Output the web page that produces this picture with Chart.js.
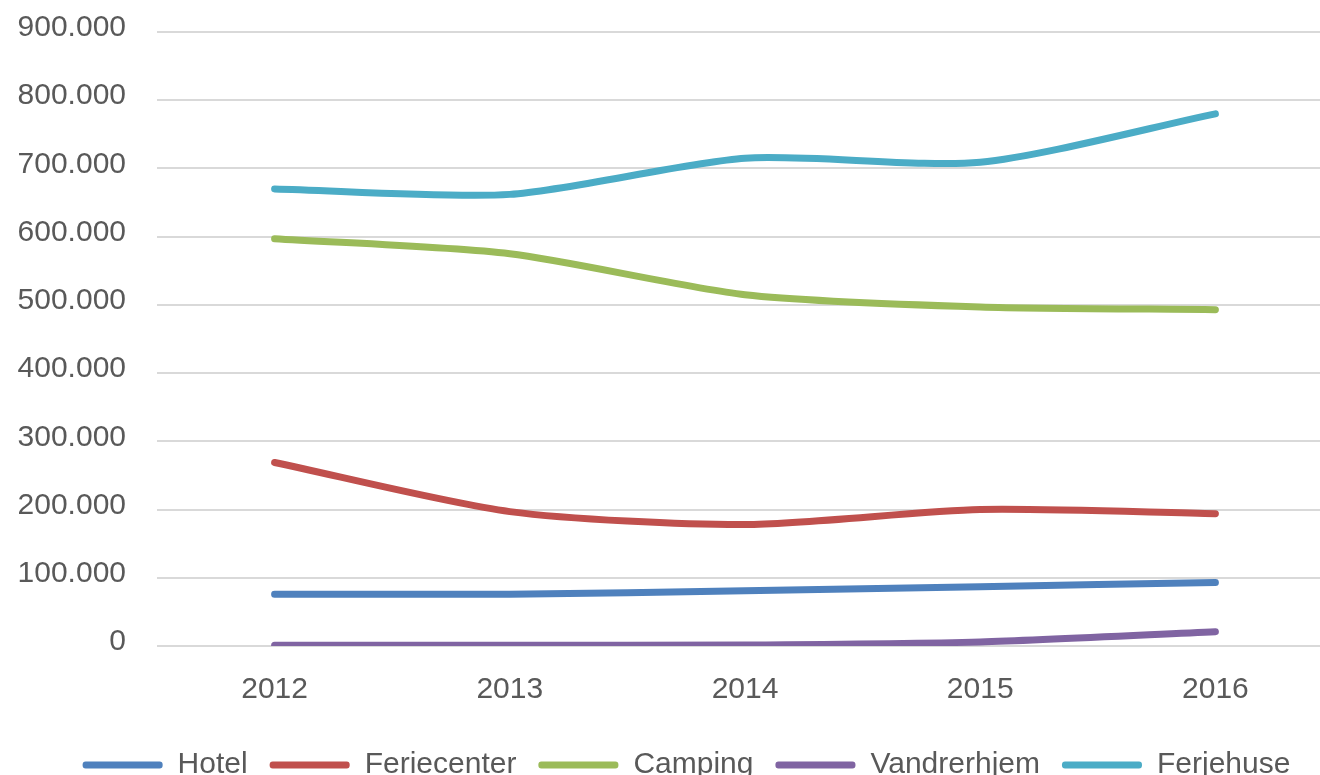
<!DOCTYPE html>
<html lang="da">
<head>
    <meta charset="UTF-8">
    <title>Overnatninger</title>
    <script src="https://cdn.jsdelivr.net/npm/chart.js"></script>
    <style>
        html, body { margin: 0; padding: 0; background: white; overflow: hidden; }
        .wrap { width: 1340px; height: 790px; position: relative; }
    </style>
</head>
<body>
    <div class="wrap">
        <canvas id="chart"></canvas>
    </div>
    <script>
        const years = ['2012', '2013', '2014', '2015', '2016'];
        const hotel = [76000, 76000, 81000, 87000, 93000];
        const feriecenter = [269000, 197000, 178000, 200000, 194000];
        const camping = [597000, 575000, 515000, 497000, 493000];
        const vandrerhjem = [1000, 1000, 1500, 6000, 21000];
        const ferjehuse = [670000, 662000, 715000, 709000, 780000];

        const textColor = '#595959';
        const font = { family: 'Liberation Sans', size: 30 };

        function fmt(v) {
            return String(v).replace(/\B(?=(\d{3})+(?!\d))/g, '.');
        }

        function series(label, data, color) {
            return {
                label: label,
                data: data,
                borderColor: color,
                backgroundColor: color,
                borderWidth: 7,
                borderCapStyle: 'round',
                pointRadius: 0,
                tension: 0.25,
                fill: false
            };
        }

        // nudge the legend a bit right, the original is centred under the plot
        const legendShift = {
            id: 'legendShift',
            afterLayout: function (chart) {
                if (chart.legend) {
                    chart.legend.left += 20;
                    chart.legend.right += 20;
                }
            }
        };

        new Chart(document.getElementById('chart'), {
            type: 'line',
            data: {
                labels: years,
                datasets: [
                    series('Hotel', hotel, '#4F81BD'),
                    series('Feriecenter', feriecenter, '#C0504D'),
                    series('Camping', camping, '#9BBB59'),
                    series('Vandrerhjem', vandrerhjem, '#8064A2'),
                    series('Ferjehuse', ferjehuse, '#4BACC6')
                ]
            },
            plugins: [legendShift],
            options: {
                responsive: true,
                maintainAspectRatio: false,
                animation: false,
                layout: { padding: { top: 32, left: 0, right: 7, bottom: 0 } },
                plugins: {
                    tooltip: { enabled: false },
                    legend: {
                        position: 'bottom',
                        labels: {
                            color: textColor,
                            font: font,
                            boxWidth: 80,
                            boxHeight: 7,
                            padding: 22,
                            useBorderRadius: true,
                            borderRadius: 3,
                            generateLabels: function (chart) {
                                const items = Chart.defaults.plugins.legend.labels.generateLabels(chart);
                                items.forEach(function (it) { it.lineWidth = 0; });
                                return items;
                            }
                        }
                    }
                },
                scales: {
                    x: {
                        offset: true,
                        grid: { display: false },
                        border: { display: false },
                        ticks: { color: textColor, font: font, padding: 18 },
                        afterFit: function (scale) { scale.height += 2; }
                    },
                    y: {
                        min: 0,
                        max: 900000,
                        grid: { color: '#d9d9d9', lineWidth: 2, drawTicks: false },
                        border: { display: false },
                        ticks: {
                            stepSize: 100000,
                            color: textColor,
                            font: font,
                            padding: 31,
                            labelOffset: -4,
                            callback: function (v) { return fmt(v); }
                        },
                        afterFit: function (scale) {
                            scale.width = 157;
                            scale.paddingTop = 0;
                        }
                    }
                }
            }
        });
    </script>
</body>
</html>
